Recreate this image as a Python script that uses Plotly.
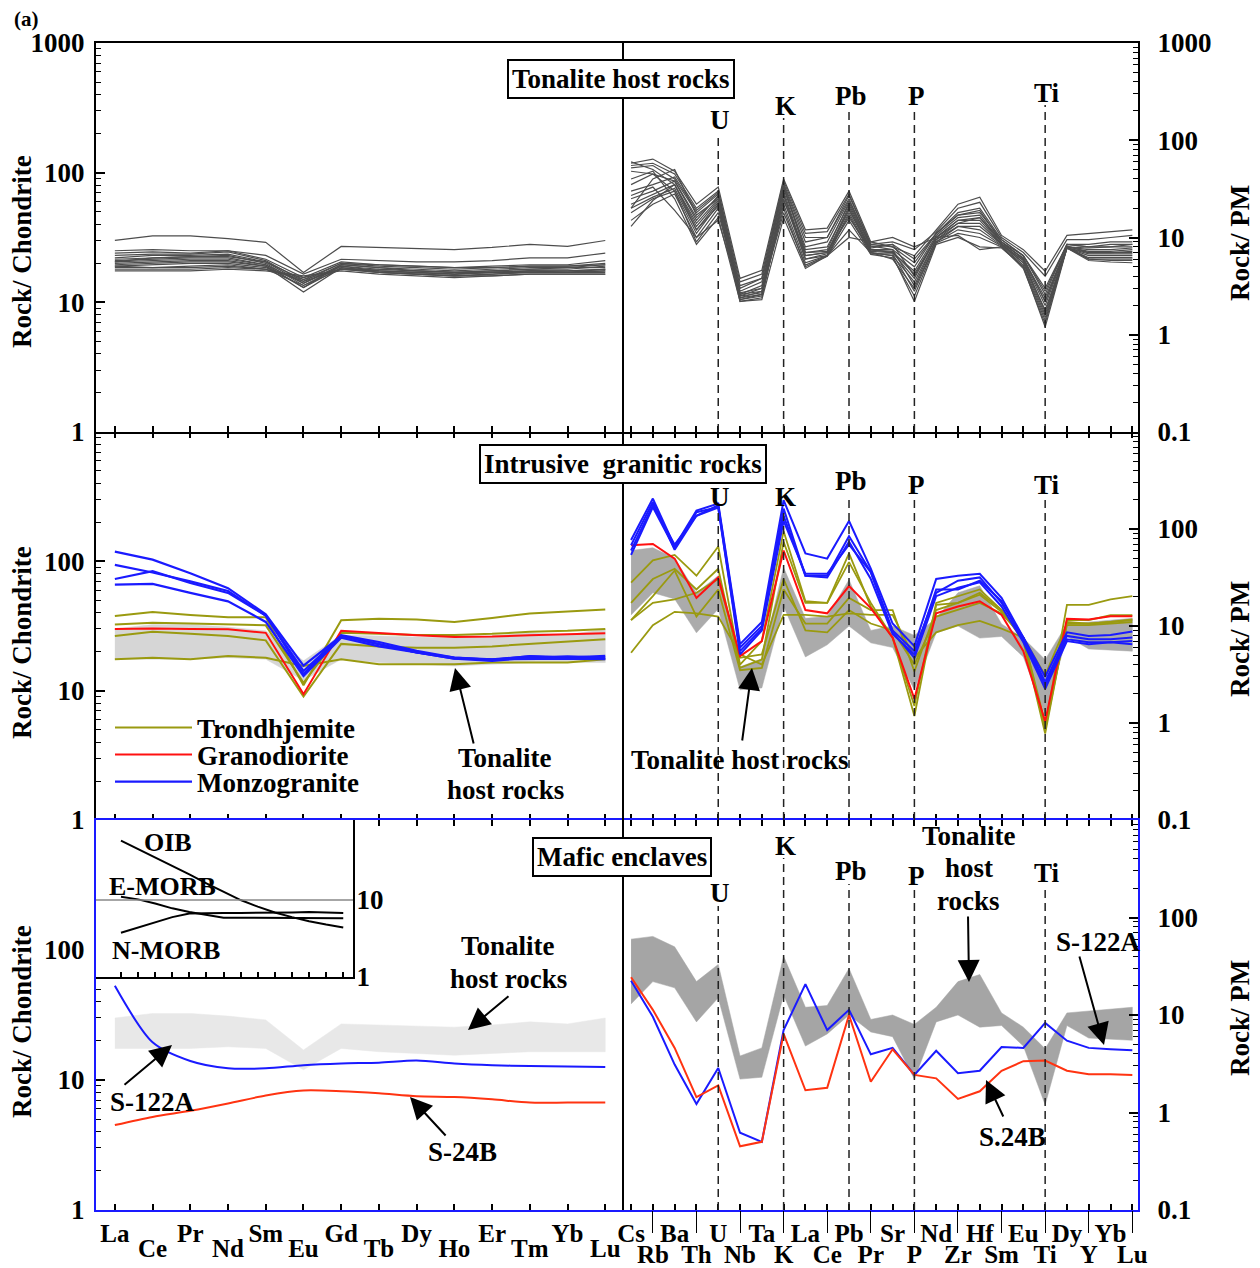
import plotly.graph_objects as go

W, H = 1260, 1268
PAGE_MARGIN = 8          # default <body> margin of the html page
FW, FH = W - PAGE_MARGIN, H - PAGE_MARGIN
FONT = "Liberation Serif"

# ---------------- data ----------------
REE = ["La", "Ce", "Pr", "Nd", "Sm", "Eu", "Gd", "Tb", "Dy", "Ho", "Er", "Tm", "Yb", "Lu"]
SPIDER = ["Cs", "Rb", "Ba", "Th", "U", "Nb", "Ta", "K", "La", "Ce", "Pb", "Pr", "Sr", "P",
          "Nd", "Zr", "Hf", "Sm", "Eu", "Ti", "Dy", "Y", "Yb", "Lu"]
MARKED = ["U", "K", "Pb", "P", "Ti"]
LEFT_TICKS = [1, 10, 100, 1000]
RIGHT_TICKS = [0.1, 1, 10, 100, 1000]
INSET_TICKS = [1, 10]
INSET_REF = 10

# Tonalite host rocks (chondrite-normalised REE)
TON_REE = [
    [30, 32.5, 32.5, 31, 29, 17, 27, 26.5, 26, 25.5, 26.5, 28, 27, 30],
    [25, 25.5, 25, 25, 23, 16.5, 21.5, 21, 20.5, 20.5, 21, 22, 22, 24],
    [24, 24.5, 24, 25, 21.5, 15.5, 20.5, 19.5, 19, 18.5, 19, 19.5, 19.5, 21],
    [23, 23.5, 23.5, 24.5, 21, 14.5, 20, 19, 18.5, 18, 18.5, 19, 19, 20],
    [22, 23, 23, 23.5, 20.5, 14, 19.5, 18.5, 18, 17.5, 18, 18.5, 18.5, 19.5],
    [21.5, 22, 22.5, 23, 20, 13.5, 19, 18, 17.5, 17, 17.5, 18, 18, 19],
    [21, 21.5, 22, 22, 19.5, 13, 19.5, 18.5, 17.5, 17, 17.5, 18, 18.5, 18.5],
    [20.5, 21, 21.5, 21.5, 19.5, 14, 19, 17.5, 17, 16.5, 17, 17.5, 17.5, 18],
    [20, 20.5, 21, 21, 19, 13, 18.5, 17.5, 17, 16.5, 17, 17.5, 17.5, 18],
    [19.5, 20, 20.5, 20.5, 19, 12, 18.5, 17, 16.5, 16, 16.5, 17, 17, 17.5],
    [19, 19.5, 20, 20, 18.5, 14.5, 18, 17, 16.5, 16, 16.5, 17, 17, 17],
    [18.5, 18.5, 19, 19.5, 18, 15, 18, 17.5, 17, 16.5, 17, 17, 17, 17.5],
    [18, 18, 18, 18.5, 18, 15.5, 18, 17, 16.5, 16, 16, 16.5, 16.5, 16.5],
    [17.5, 17.5, 17.5, 18, 17.5, 16, 17.5, 16.5, 16, 15.5, 16, 16.5, 16.5, 16.5],
    [19, 18.5, 18.5, 19, 18, 13.5, 18, 18, 17.5, 17, 17, 17.5, 17, 18],
    [20.5, 22, 22.5, 22.5, 20.5, 15, 20, 19.5, 19, 18.5, 18.5, 19, 19, 19.5],
]
# Tonalite host rocks (primitive-mantle-normalised)
TON_PM = [
    [58, 64, 48, 22, 33, 3.8, 4.6, 40, 12, 12.5, 30, 9, 8, 6.5, 12, 22, 26, 10.5, 7.5, 4.5, 10.5, 11, 11.5, 12],
    [55, 58, 45, 20, 30, 3.5, 4.2, 38, 11, 11.5, 28, 8.5, 9, 7.5, 11.5, 20, 23, 10, 7, 4.0, 9.5, 9.5, 10, 10.5],
    [52, 55, 40, 18, 28, 3.0, 3.8, 35, 9, 10, 25, 8, 8.5, 6, 11, 18, 20, 9.5, 6.5, 3.0, 8.5, 8.5, 9, 9],
    [48, 45, 38, 16, 26, 2.8, 3.5, 33, 8, 9, 24, 8.2, 7.5, 5, 11, 17, 19, 9, 6.5, 2.6, 8.5, 8, 8, 8.5],
    [60, 50, 35, 14, 25, 2.6, 3.2, 32, 7.5, 8, 22, 7.5, 7, 4.5, 10.5, 16, 17, 9, 6, 2.4, 8, 7.8, 8, 8],
    [30, 35, 42, 19, 29, 3.2, 3.8, 36, 10, 10, 27, 8.5, 8, 5.5, 11, 17, 18, 9.5, 6.5, 2.8, 8.5, 8, 8.5, 8.5],
    [25, 30, 38, 15, 27, 2.5, 3.0, 34, 7, 7.5, 23, 7.8, 8.5, 4, 10, 15, 16, 9, 6, 2.2, 8, 7.5, 7.5, 7.8],
    [22, 28, 35, 13, 24, 2.4, 2.8, 30, 6.5, 7, 21, 7.2, 7, 3.8, 10, 15, 15, 8.5, 5.8, 2.0, 8, 7.2, 7.2, 7.5],
    [20, 26, 32, 12, 23, 2.3, 2.6, 28, 6, 6.8, 20, 7, 6.5, 3.5, 9.5, 14, 14, 8.5, 5.5, 1.8, 7.8, 7, 7, 7],
    [18, 25, 30, 11, 22, 2.4, 2.6, 27, 6.5, 7, 19, 7.5, 7.5, 3.2, 9.5, 13, 13, 8.5, 5.8, 1.7, 7.8, 6.8, 6.8, 6.8],
    [15, 22, 28, 10, 20, 2.2, 2.4, 25, 6, 6.5, 18, 7, 6, 3, 9, 13, 12, 8.3, 5.5, 1.6, 7.8, 6.5, 6.5, 6.5],
    [13, 24, 35, 12, 21, 2.3, 2.5, 22, 5.5, 6.5, 17, 6.8, 6.8, 2.8, 9, 12, 11, 8.2, 5.2, 1.5, 7.8, 6.2, 6.2, 6.2],
    [20, 40, 50, 17, 25, 2.5, 2.7, 20, 5, 6.4, 15, 6.7, 6.2, 2.5, 8.8, 11, 10, 8, 5, 1.4, 7.8, 6, 6, 6],
    [35, 45, 30, 9, 18, 2.6, 2.8, 18, 5.2, 6.5, 12, 7, 6.5, 2.2, 8.5, 10, 8, 7.8, 5, 1.2, 7.8, 5.8, 5.6, 5.5],
    [40, 48, 25, 8.5, 16, 2.2, 2.3, 16, 4.8, 6.5, 10, 9, 10, 8, 10, 10.5, 7.5, 8, 4.8, 1.3, 8, 6, 5.8, 5.8],
    [27, 33, 19, 10, 15, 2.7, 3.0, 24, 7, 7.2, 16, 7.4, 7.2, 4.2, 10, 14, 16, 8.6, 6.2, 2.2, 8.2, 7, 7, 7.2],
]

# Intrusive granitic rocks
TRD_REE = [
    [37.8, 40.5, 38.5, 37, 37, 11, 35, 36, 35.5, 34, 36.5, 39.5, 41, 42.5],
    [32.5, 33.5, 33, 32.5, 32, 11.5, 28, 27.5, 27, 27, 27.5, 28.5, 29, 30],
    [26.5, 28.5, 27.5, 26.5, 24.5, 9.0, 23, 22, 21.5, 21.5, 22, 23, 24, 25],
    [17.5, 18, 17.5, 18.5, 18, 15.5, 17.5, 16, 16, 16, 16.5, 16.5, 16.5, 17.5],
]
GRD_REE = [30, 30.3, 30, 29.8, 28, 9.4, 29, 27.8, 26.8, 26, 26.2, 26.8, 27.3, 27.8]
MZG_REE = [
    [119, 103, 81, 62, 39, 15.6, 26.5, 22.8, 19.8, 17.7, 17.5, 18.4, 18, 18.6],
    [94, 82, 70, 59, 38, 13.4, 26.8, 23.8, 20.3, 18, 17.3, 18.5, 18, 17.7],
    [73, 84, 68, 57, 38, 14.2, 26.5, 22.8, 19.8, 17.7, 17, 18, 18.4, 18],
    [66, 67, 57, 49, 34, 13, 25.7, 22, 19.8, 18, 17.5, 17.7, 17.7, 17.5],
]
TRD_PM = [
    [28, 47.6, 54, 33, 66, 4, 7, 95, 18, 17.3, 56, 15.9, 7.6, 1.5, 17.3, 20.3, 23.8, 14.6, 7.6, 0.92, 16.5, 16.5, 18.8, 20.3],
    [17.3, 30.5, 38.9, 23.8, 38.9, 3.7, 4.5, 74, 17.3, 17.3, 45.6, 17.3, 7.6, 1.18, 16.5, 17.3, 22, 14.6, 7, 0.78, 11.5, 11.5, 12.9, 12.9],
    [11.5, 20.3, 37.3, 12.5, 23.8, 3.5, 3.7, 23.8, 10.6, 10.6, 19.5, 14.6, 14.6, 3.4, 14.6, 17.3, 21, 14, 7.6, 1.0, 10.2, 10.2, 10.6, 11],
    [5.3, 10.2, 14, 13.5, 12.5, 5.1, 4, 13, 13, 12.5, 13.5, 13, 13, 4.7, 8.6, 10.2, 11.3, 9.4, 7.6, 3.1, 10.6, 10.6, 11, 11.5],
    [11.5, 17.3, 18.8, 22, 30.5, 4.7, 5.1, 30.5, 9, 8.6, 14.6, 10.6, 9, 4, 12.5, 14.6, 17.3, 13.5, 7.6, 0.85, 11, 10.6, 11, 11.7],
]
GRD_PM = [68, 70, 49.5, 19.5, 31.7, 4.9, 7, 60, 14.6, 13.5, 25.8, 15.3, 7.6, 1.77, 13.5, 15.9, 18, 13, 5.5, 1.04, 11.9, 11.7, 12.6, 12.6]
MZG_PM = [
    [77, 206, 66, 155, 183, 6.5, 11, 198, 56, 49.5, 121, 39, 10.6, 6.2, 30.5, 33, 34.5, 19.5, 7.6, 3.0, 8.6, 7.9, 8.1, 8.8],
    [68, 190, 61, 137, 176, 6, 10, 162, 33, 33, 84, 36, 9, 5.5, 22, 29.3, 31.7, 17.3, 7.6, 2.65, 7.9, 7.3, 7.3, 7.6],
    [54, 168, 63, 149, 168, 5.5, 9.4, 137, 33, 31.7, 74, 30.5, 8.3, 5.1, 23.8, 23.8, 29.3, 18, 7, 2.45, 7.3, 6.8, 6.8, 7],
    [60, 176, 69, 137, 166, 5.1, 9, 121, 34.5, 34.5, 69, 36, 8.6, 4.7, 20.3, 24.8, 28.2, 15.9, 6.8, 2.25, 7, 6.5, 6.8, 6.5],
]

# Mafic enclaves
S122A_REE = [53, 19.5, 14, 12.3, 12.3, 13, 13.4, 13.6, 14.1, 13.4, 13, 12.8, 12.7, 12.6]
S24B_REE = [4.5, 5.2, 5.8, 6.6, 7.6, 8.3, 8.2, 7.9, 7.5, 7.4, 7.1, 6.7, 6.7, 6.7]
S122A_PM = [22.5, 9.6, 3.1, 1.22, 2.86, 0.62, 0.5, 7, 20.7, 7, 11.3, 3.95, 4.6, 2.43, 4.3, 2.53, 2.68, 4.7, 4.6, 8.3, 5.45, 4.6, 4.45, 4.35]
S24B_PM = [24.4, 11.3, 4.6, 1.44, 1.9, 0.45, 0.5, 6.4, 1.69, 1.79, 10, 2.07, 4.45, 2.43, 2.24, 1.38, 1.65, 2.68, 3.36, 3.41, 2.68, 2.47, 2.47, 2.43]

# Inset reference patterns
OIB = [59, 46, 36, 27.5, 21.5, 16.5, 13, 10, 8.2, 6.9, 6.0, 5.3, 4.8, 4.4]
EMORB = [11, 10.2, 9, 7.8, 7.0, 6.4, 5.9, 5.9, 5.9, 5.85, 5.8, 5.8, 5.8, 5.8]
NMORB = [3.75, 4.4, 5.2, 6.0, 6.7, 6.8, 6.8, 6.8, 6.8, 6.8, 6.9, 7.0, 6.9, 6.8]

# ---------------- styles / geometry (screen pixels) ----------------
C_TON = "#4d4d4d"
C_TRD = "#9a9a10"
C_GRD = "#ff1010"
C_MZG = "#1a1aff"
C_S122 = "#1a1aff"
C_S24 = "#ff3311"
C_FRAME_BOT = "#1a1aff"
ENV = {"mid_l": "#d6d6d6", "mid_r": "#ababab", "bot_l": "#e8e8e8", "bot_r": "#a5a5a5"}

XL0, XM, XR1 = 96, 623, 1138
ROWS = [(43, 432), (432, 820), (820, 1210)]
LEFT_IDS = ["", "3", "5"]
RIGHT_IDS = ["2", "4", "6"]
XR_LEFT = [-0.5, 13.47]
XR_RIGHT = [-0.37, 23.26]


def fx(p):
    return (p - PAGE_MARGIN) / FW


def fy(p):
    return 1 - (p - PAGE_MARGIN) / FH


fig = go.Figure()


def add_series(i, y, color, width, name=None, legend=None, shape="linear"):
    fig.add_trace(go.Scatter(
        x=list(range(len(y))), y=y, xaxis="x" + i, yaxis="y" + i,
        mode="lines", line=dict(color=color, width=width, shape=shape, smoothing=0.8),
        name=name, showlegend=legend is not None, legend=legend or "legend",
        hoverinfo="skip"))


def add_envelope(i, samples, color):
    lo = [min(c) for c in zip(*samples)]
    hi = [max(c) for c in zip(*samples)]
    n = len(lo)
    xs = list(range(n)) + list(range(n))[::-1]
    ys = hi + lo[::-1]
    fig.add_trace(go.Scatter(
        x=xs, y=ys, xaxis="x" + i, yaxis="y" + i, mode="lines",
        fill="toself", fillcolor=color, line=dict(color=color, width=0.5),
        showlegend=False, hoverinfo="skip"))


# --- top row: tonalite host rocks
for s in TON_REE:
    add_series(LEFT_IDS[0], s, C_TON, 1.2)
for s in TON_PM:
    add_series(RIGHT_IDS[0], s, C_TON, 1.2)

# --- middle row: intrusive granitic rocks
add_envelope(LEFT_IDS[1], TON_REE, ENV["mid_l"])
add_envelope(RIGHT_IDS[1], TON_PM, ENV["mid_r"])
for k, s in enumerate(TRD_REE):
    add_series(LEFT_IDS[1], s, C_TRD, 2, "Trondhjemite", "legend" if k == 0 else None)
add_series(LEFT_IDS[1], GRD_REE, C_GRD, 2, "Granodiorite", "legend2")
for k, s in enumerate(MZG_REE):
    add_series(LEFT_IDS[1], s, C_MZG, 2.2, "Monzogranite", "legend3" if k == 0 else None)
for s in TRD_PM:
    add_series(RIGHT_IDS[1], s, C_TRD, 1.8)
add_series(RIGHT_IDS[1], GRD_PM, C_GRD, 2)
for s in MZG_PM:
    add_series(RIGHT_IDS[1], s, C_MZG, 2)

# --- bottom row: mafic enclaves
add_envelope(LEFT_IDS[2], TON_REE, ENV["bot_l"])
add_envelope(RIGHT_IDS[2], TON_PM, ENV["bot_r"])
add_series(LEFT_IDS[2], S122A_REE, C_S122, 2, shape="spline")
add_series(LEFT_IDS[2], S24B_REE, C_S24, 2, shape="spline")
add_series(RIGHT_IDS[2], S122A_PM, C_S122, 2)
add_series(RIGHT_IDS[2], S24B_PM, C_S24, 2)

# --- inset
for s in (OIB, EMORB, NMORB):
    add_series("7", s, "black", 2)
fig.add_trace(go.Scatter(x=[-1.46, 13.57], y=[INSET_REF, INSET_REF], xaxis="x7", yaxis="y7",
                         mode="lines", line=dict(color="#888888", width=1.5),
                         showlegend=False, hoverinfo="skip"))

# dummy traces for label overlay axes
for xa, ya in (("x8", "y5"), ("x9", "y5"), ("x10", "y6"), ("x11", "y6")):
    fig.add_trace(go.Scatter(x=[0], y=[1], xaxis=xa, yaxis=ya, mode="markers",
                             marker=dict(opacity=0), showlegend=False, hoverinfo="skip"))

# ---------------- axes ----------------
layout = dict(template="none", width=FW, height=FH, autosize=False,
              margin=dict(l=0, r=0, t=0, b=0, pad=0),
              paper_bgcolor="white", plot_bgcolor="white",
              font=dict(family=FONT, color="black"), showlegend=True)

TICKFONT = dict(family=FONT, size=27, color="black", weight="bold")
LABFONT = dict(family=FONT, size=25, color="black", weight="bold")


def fmt(v):
    return "0.1" if v < 1 else str(int(v))


for r, (t, b) in enumerate(ROWS):
    lid, rid = LEFT_IDS[r], RIGHT_IDS[r]
    lc = C_FRAME_BOT if r == 2 else "black"
    mir = True if r == 0 else "ticks"
    common_x = dict(tickmode="array", showticklabels=False, ticks="inside", ticklen=6,
                    tickwidth=1.5, tickcolor="black", showline=(r != 1), linecolor=lc,
                    linewidth=2, mirror=mir, showgrid=False, zeroline=False, automargin=False)
    layout["xaxis" + lid] = dict(common_x, domain=[fx(XL0), fx(XM)], anchor="y" + lid,
                                 range=XR_LEFT, tickvals=list(range(len(REE))))
    layout["xaxis" + rid] = dict(common_x, domain=[fx(XM), fx(XR1)], anchor="y" + rid,
                                 range=XR_RIGHT, tickvals=list(range(len(SPIDER))))
    lt = LEFT_TICKS if r == 0 else LEFT_TICKS[:-1]
    rt = RIGHT_TICKS if r == 0 else RIGHT_TICKS[:-1]
    common_y = dict(type="log", ticks="inside", ticklen=9, tickwidth=1.5, tickcolor="black",
                    minor=dict(ticks="inside", ticklen=5, tickwidth=1, tickcolor="black",
                               dtick="D1", showgrid=False),
                    showline=True, linecolor=lc, linewidth=2, showgrid=False, zeroline=False,
                    tickfont=TICKFONT, tickmode="array", domain=[fy(b), fy(t)],
                    automargin=False)
    layout["yaxis" + lid] = dict(common_y, anchor="x" + lid, range=[0, 3], tickvals=lt,
                                 ticktext=[fmt(v) for v in lt], side="left",
                                 ticklabelstandoff=4)
    layout["yaxis" + rid] = dict(common_y, anchor="x" + rid, range=[-1, 3], tickvals=rt,
                                 ticktext=[fmt(v) for v in rt], side="right",
                                 ticklabelstandoff=12)

# inset axes
layout["xaxis7"] = dict(domain=[fx(96), fx(353)], anchor="y7", range=[-1.46, 13.57],
                        tickmode="array", tickvals=list(range(len(REE))), showticklabels=False,
                        ticks="inside", ticklen=5, tickwidth=1.5, tickcolor="black",
                        showline=True, linecolor="black", linewidth=2, showgrid=False,
                        zeroline=False, automargin=False)
layout["yaxis7"] = dict(domain=[fy(977), fy(820)], anchor="x7", type="log", range=[0, 2.04],
                        side="right", tickmode="array", tickvals=INSET_TICKS,
                        ticktext=[fmt(v) for v in INSET_TICKS], ticks="", showline=True,
                        linecolor="black", linewidth=2, showgrid=False, zeroline=False,
                        tickfont=TICKFONT, ticklabelstandoff=-4, automargin=False)

# staggered category label axes
even_l = list(range(0, len(REE), 2))
odd_l = list(range(1, len(REE), 2))
even_r = list(range(0, len(SPIDER), 2))
odd_r = list(range(1, len(SPIDER), 2))
lab_common = dict(tickmode="array", showline=False, showgrid=False, zeroline=False,
                  tickfont=LABFONT, ticks="outside", side="bottom", automargin=False)
layout["xaxis8"] = dict(lab_common, overlaying="x5", anchor="y5", range=XR_LEFT,
                        tickvals=even_l, ticktext=[REE[i] for i in even_l],
                        ticklen=1, tickcolor="rgba(0,0,0,0)")
layout["xaxis9"] = dict(lab_common, overlaying="x5", anchor="y5", range=XR_LEFT,
                        tickvals=odd_l, ticktext=[REE[i] for i in odd_l],
                        ticklen=16, tickcolor="rgba(0,0,0,0)")
layout["xaxis10"] = dict(lab_common, overlaying="x6", anchor="y6", range=XR_RIGHT,
                         tickvals=even_r, ticktext=[SPIDER[i] for i in even_r],
                         ticklen=1, tickcolor="rgba(0,0,0,0)")
layout["xaxis11"] = dict(lab_common, overlaying="x6", anchor="y6", range=XR_RIGHT,
                         tickvals=odd_r, ticktext=[SPIDER[i] for i in odd_r],
                         ticklen=22, tickcolor="black", tickwidth=1)

# legends (one per rock type, stacked)
LEGFONT = dict(family=FONT, size=27, color="black", weight="bold")
for key, yc in (("legend", 728), ("legend2", 755), ("legend3", 782)):
    layout[key] = dict(x=fx(110), y=fy(yc), xanchor="left", yanchor="middle",
                       bgcolor="rgba(0,0,0,0)", font=LEGFONT, itemwidth=77,
                       borderwidth=0)

# ---------------- shapes & annotations ----------------
shapes = [
    dict(type="line", xref="paper", yref="paper", x0=fx(XM), x1=fx(XM),
         y0=fy(1210), y1=fy(43), line=dict(color="black", width=2), layer="above"),
]
ann = []


def text(x, y, s, size=27, **kw):
    d = dict(x=fx(x), y=fy(y), xref="paper", yref="paper", text=s, showarrow=False,
             xanchor="center", yanchor="middle",
             font=dict(family=FONT, size=size, color="black", weight="bold"))
    d.update(kw)
    ann.append(d)


def mtext(x, ys, lines, size=27):
    for y, s in zip(ys, lines):
        text(x, y, s, size=size)


def arrow(tail, head):
    ann.append(dict(x=fx(head[0]), y=fy(head[1]), xref="paper", yref="paper",
                    ax=tail[0] - head[0], ay=tail[1] - head[1], text="", showarrow=True,
                    arrowhead=2, arrowsize=2.2, arrowwidth=2, arrowcolor="black"))


text(12, 19, "(a)", size=21, xanchor="left")
for yc in (252, 643, 1022):
    text(22, yc, "Rock/ Chondrite", textangle=-90)
for yc in (243, 639, 1018):
    text(1240, yc, "Rock/ PM", textangle=-90)

box = dict(bordercolor="black", borderwidth=2, borderpad=3, bgcolor="white")
text(621, 79, "Tonalite host rocks", **box)
text(623, 464, "Intrusive&nbsp; granitic rocks", **box)
text(622, 857, "Mafic enclaves", **box)

# element markers (U, K, Pb, P, Ti) per row: label centre / dashed-line top (px)
MARK_POS = [
    {"U": (120, 133), "K": (106, 118), "Pb": (96, 108), "P": (96, 108), "Ti": (93, 105)},
    {"U": (497, 510), "K": (497, 510), "Pb": (481, 495), "P": (485, 498), "Ti": (485, 498)},
    {"U": (893, 906), "K": (846, 858), "Pb": (871, 884), "P": (876, 889), "Ti": (873, 886)},
]
for r, (t, b) in enumerate(ROWS):
    xr = "x" + RIGHT_IDS[r]
    for el in MARKED:
        idx = SPIDER.index(el)
        lab_y, top_y = MARK_POS[r][el]
        shapes.append(dict(type="line", xref=xr, yref="paper", x0=idx, x1=idx,
                           y0=fy(b), y1=fy(top_y),
                           line=dict(color="#222222", width=1.5, dash="8px,5px")))
        ann.append(dict(x=idx, y=fy(lab_y), xref=xr, yref="paper", text=el, showarrow=False,
                        xanchor="center", yanchor="middle", xshift=2,
                        font=dict(family=FONT, size=27, color="black", weight="bold")))

# inset labels
text(168, 842, "OIB", size=26)
text(162, 886, "E-MORB", size=26)
text(166, 950, "N-MORB", size=26)

# callouts
mtext(505, (758, 790), ("Tonalite", "host rocks"))
arrow((474, 745), (455, 668))
text(740, 760, "Tonalite host rocks")
arrow((742, 742), (752, 668))
mtext(508, (946, 979), ("Tonalite", "host rocks"))
arrow((510, 995), (468, 1030))
text(152, 1102, "S-122A")
arrow((123, 1086), (172, 1045))
text(462, 1152, "S-24B")
arrow((447, 1137), (410, 1097))
mtext(969, (836, 868, 901), ("Tonalite", "host", "rocks"))
arrow((968, 915), (969, 982))
text(1098, 942, "S-122A")
arrow((1079, 955), (1104, 1045))
text(1012, 1137, "S.24B")
arrow((1004, 1118), (986, 1080))

layout["shapes"] = shapes
layout["annotations"] = ann
fig.update_layout(**layout)
fig.write_html("out.html")
